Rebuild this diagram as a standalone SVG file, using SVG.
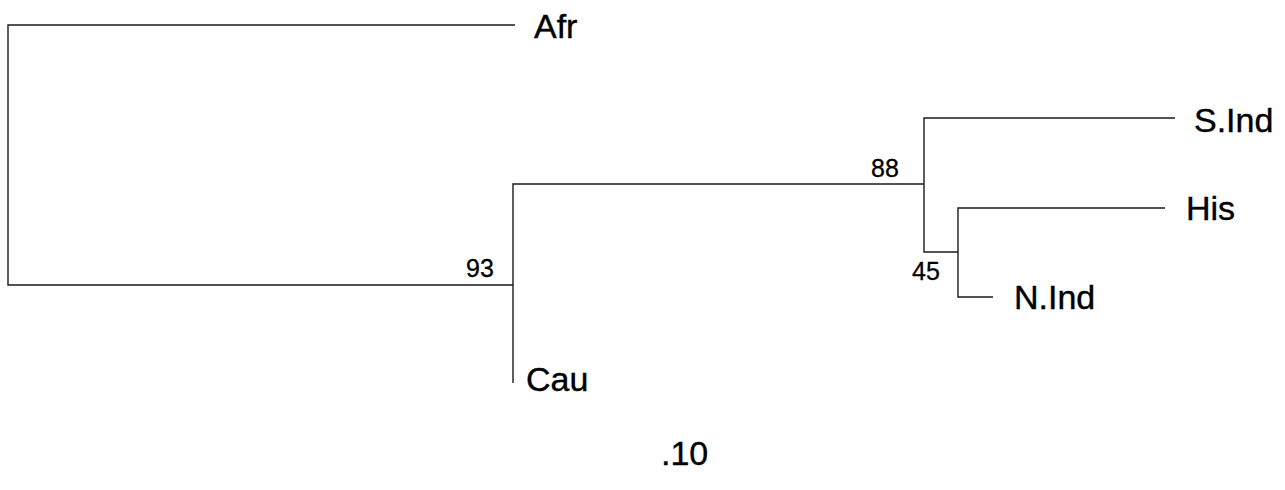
<svg xmlns="http://www.w3.org/2000/svg" width="1285" height="490" viewBox="0 0 1285 490">
<style>
.br{stroke:#1a1a1a;stroke-width:1.4;fill:none}
.lb{font-family:"Liberation Sans",Arial,sans-serif;font-size:34px;fill:#000;stroke:#000;stroke-width:0.4}
.bs{font-family:"Liberation Sans",Arial,sans-serif;font-size:25px;fill:#000;stroke:#000;stroke-width:0.3}
</style>
<rect width="1285" height="490" fill="#fff"/>
<g id="connectors">
<path class="br" d="M515,25 H8 V285 H513"/>
<path class="br" d="M513,383 V184 H924"/>
<path class="br" d="M1175,118 H924 V252 H958"/>
<path class="br" d="M1165,208 H958 V297 H993"/>
</g>
<g id="Afr"><text class="lb" x="534" y="38">Afr</text></g>
<g id="Cau"><text class="lb" x="526" y="391">Cau</text></g>
<g id="SInd"><text class="lb" x="1194" y="132">S.Ind</text></g>
<g id="His"><text class="lb" x="1186" y="220">His</text></g>
<g id="NInd"><text class="lb" x="1014" y="309">N.Ind</text></g>
<g id="b93"><text class="bs" x="466" y="277">93</text></g>
<g id="b88"><text class="bs" x="871" y="177">88</text></g>
<g id="b45"><text class="bs" x="912" y="280">45</text></g>
<g id="scale"><text class="lb" x="661" y="465">.10</text></g>
</svg>
